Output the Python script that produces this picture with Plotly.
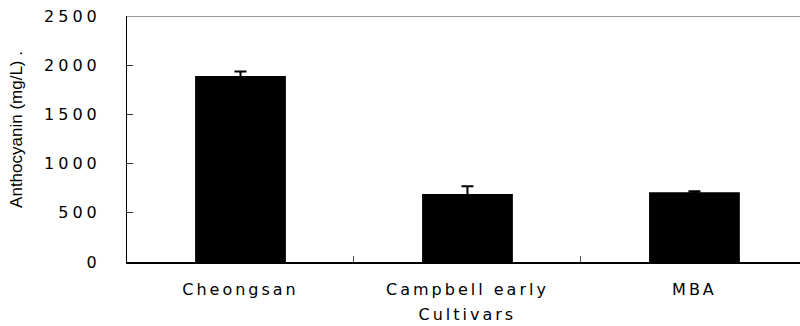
import plotly.graph_objects as go

# Anthocyanin content per grape cultivar (mean and standard deviation, mg/L)
cultivars = ["Cheongsan", "Campbell early", "MBA"]
anthocyanin = [1890, 690, 708]
anthocyanin_sd = [45, 80, 12]
y_ticks = [0, 500, 1000, 1500, 2000, 2500]

label_font = dict(family="DejaVu Sans", size=16, color="#000")

fig = go.Figure()
fig.add_trace(go.Bar(
    x=cultivars,
    y=anthocyanin,
    width=0.4,
    marker=dict(color="#000", line=dict(width=0)),
    error_y=dict(type="data", array=anthocyanin_sd, visible=True,
                 color="#000", thickness=2, width=6),
    showlegend=False,
))

fig.update_layout(
    width=800, height=326,
    margin=dict(l=127, r=0, t=16, b=64),
    paper_bgcolor="#fff", plot_bgcolor="#fff",
    bargap=0.6,
    xaxis=dict(
        type="category",
        range=[-0.5, 2.465],
        tickson="boundaries",
        ticks="inside", ticklen=6, tickwidth=1, tickcolor="#555",
        showline=True, linecolor="#000", linewidth=1.5,
        showgrid=False, zeroline=False,
        tickfont=label_font,
        ticklabelstandoff=12,
    ),
    yaxis=dict(
        range=[0, 2500],
        tickvals=y_ticks,
        ticks="inside", ticklen=6, tickwidth=1, tickcolor="#333",
        showline=True, linecolor="#000", linewidth=1,
        showgrid=False, zeroline=False,
        tickfont=label_font,
        ticklabelstandoff=22,
    ),
    annotations=[
        dict(text="Cultivars", xref="x", yref="paper", x=1, y=0,
             yshift=-52, xanchor="center", yanchor="middle",
             showarrow=False, font=label_font),
        dict(text="Anthocyanin (mg/L) .", xref="paper", yref="paper",
             x=(17 - 127) / 673, y=0.537, textangle=-90,
             xanchor="center", yanchor="middle", showarrow=False,
             font=dict(family="Liberation Sans", size=17, color="#000")),
    ],
    shapes=[
        dict(type="line", xref="paper", yref="y", x0=0, x1=1, y0=2500, y1=2500,
             line=dict(color="#9a9a9a", width=2)),
    ],
)

# Wide letter spacing for the tick labels and the x-axis caption
style = """
var s = document.createElement('style');
s.textContent = '.xtick text, .annotation[data-index="0"] text {letter-spacing:3px;} .ytick text {letter-spacing:4px;}';
document.head.appendChild(s);
"""
fig.write_html("out.html", post_script=style)
